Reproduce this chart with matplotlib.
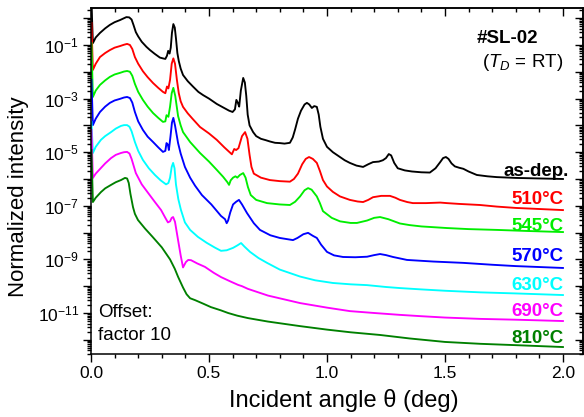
import matplotlib
matplotlib.use("Agg")
import numpy as np
import matplotlib.pyplot as plt
from matplotlib.ticker import FixedLocator, LogLocator, NullFormatter, FuncFormatter, MultipleLocator

plt.rcParams["font.family"] = ["Liberation Sans", "DejaVu Sans"]
plt.rcParams["mathtext.fontset"] = "custom"
plt.rcParams["mathtext.rm"] = "Liberation Sans"
plt.rcParams["mathtext.it"] = "Liberation Sans:italic"
plt.rcParams["mathtext.bf"] = "Liberation Sans:bold"

# X-ray reflectivity: incident angle (deg) and log10 of the plotted intensity.
# Successive annealing temperatures are already shifted down by a factor 10 each.
theta_asdep = [0.002, 0.008, 0.02, 0.038, 0.06, 0.08, 0.1, 0.123, 0.14, 0.15, 0.162, 0.172, 0.18, 0.19,
               0.2, 0.215, 0.235, 0.25, 0.27, 0.292, 0.305, 0.315, 0.322, 0.327, 0.333, 0.338, 0.343,
               0.349, 0.355, 0.36, 0.366, 0.372, 0.38, 0.39, 0.41, 0.432, 0.455, 0.475, 0.5, 0.533,
               0.56, 0.585, 0.6, 0.61, 0.616, 0.622, 0.628, 0.635, 0.645, 0.652, 0.658, 0.664, 0.672,
               0.687, 0.7, 0.72, 0.74, 0.758, 0.78, 0.80, 0.82, 0.843, 0.855, 0.865, 0.877, 0.89, 0.905,
               0.915, 0.925, 0.936, 0.946, 0.957, 0.965, 0.972, 0.983, 1.0, 1.025, 1.05, 1.075, 1.097,
               1.125, 1.153, 1.175, 1.195, 1.22, 1.237, 1.25, 1.262, 1.272, 1.285, 1.3, 1.33, 1.36, 1.4,
               1.436, 1.46, 1.479, 1.492, 1.504, 1.515, 1.528, 1.542, 1.56, 1.578, 1.6, 1.635, 1.68,
               1.72, 1.8, 1.9, 2.0]
logI_asdep = [0.6, -0.93, -0.72, -0.55, -0.38, -0.25, -0.15, -0.07, 0.0, 0.04, 0.03, -0.05, -0.25, -0.52,
              -0.68, -0.88, -1.07, -1.19, -1.33, -1.47, -1.5, -1.52, -1.4, -1.22, -1.32, -1.1, -0.55,
              -0.22, -0.35, -0.75, -1.3, -1.6, -1.88, -2.12, -2.35, -2.55, -2.75, -2.87, -3.0, -3.2,
              -3.33, -3.45, -3.5, -3.4, -3.05, -3.15, -3.3, -2.7, -2.23, -2.4, -2.9, -3.6, -4.0,
              -4.25, -4.4, -4.5, -4.55, -4.6, -4.65, -4.66, -4.68, -4.65, -4.45, -4.15, -3.75, -3.45, -3.22,
              -3.16, -3.22, -3.35, -3.28, -3.31, -3.6, -4.05, -4.5, -4.8, -5.0, -5.15, -5.3, -5.4,
              -5.5, -5.55, -5.45, -5.37, -5.35, -5.3, -5.22, -5.07, -5.12, -5.4, -5.6, -5.68, -5.72, -5.75,
              -5.76, -5.6, -5.38, -5.22, -5.18, -5.25, -5.42, -5.53, -5.58, -5.62, -5.72, -5.85, -5.9,
              -5.93, -5.96, -5.98, -6.0]

theta_510 = [0.002, 0.008, 0.02, 0.038, 0.06, 0.08, 0.1, 0.123, 0.14, 0.153, 0.165, 0.175, 0.186, 0.2,
             0.22, 0.24, 0.263, 0.285, 0.305, 0.315, 0.322, 0.328, 0.335, 0.342, 0.349, 0.356, 0.364,
             0.372, 0.38, 0.39, 0.41, 0.43, 0.462, 0.5, 0.533, 0.565, 0.597, 0.607, 0.615, 0.625, 0.64,
             0.653, 0.663, 0.672, 0.68, 0.69, 0.72, 0.758, 0.8, 0.843, 0.86, 0.877, 0.895, 0.91, 0.924,
             0.94, 0.957, 0.97, 0.983, 1.0, 1.025, 1.055, 1.097, 1.13, 1.153, 1.175, 1.195, 1.23, 1.267,
             1.29, 1.309, 1.34, 1.364, 1.42, 1.48, 1.508, 1.56, 1.648, 1.72, 1.8, 1.9, 2.0]
logI_510 = [-0.18, -1.93, -1.7, -1.45, -1.3, -1.19, -1.1, -1.04, -0.99, -0.96, -1.0, -1.15, -1.45, -1.7,
            -1.98, -2.2, -2.42, -2.6, -2.75, -2.8, -2.55, -2.62, -2.3, -1.7, -1.5, -1.7, -2.3,
            -2.8, -3.1, -3.31, -3.55, -3.75, -4.06, -4.3, -4.54, -4.82, -5.08, -4.88, -4.92, -4.85, -4.4,
            -4.25, -4.5, -5.1, -5.55, -5.8, -5.95, -6.04, -6.08, -6.1, -6.0, -5.8, -5.45, -5.25, -5.18,
            -5.25, -5.4, -5.7, -6.04, -6.28, -6.48, -6.65, -6.78, -6.84, -6.86, -6.78, -6.68, -6.63, -6.63,
            -6.7, -6.78, -6.86, -6.9, -6.9, -6.88, -6.9, -6.93, -6.97, -7.03, -7.08, -7.12, -7.16]

theta_545 = [0.002, 0.008, 0.02, 0.038, 0.06, 0.08, 0.1, 0.123, 0.14, 0.153, 0.165, 0.175, 0.186, 0.2,
             0.22, 0.24, 0.263, 0.285, 0.305, 0.315, 0.32, 0.328, 0.335, 0.342, 0.349, 0.357, 0.369,
             0.38, 0.39, 0.42, 0.462, 0.5, 0.533, 0.56, 0.578, 0.585, 0.592, 0.602, 0.612, 0.62, 0.631,
             0.645, 0.655, 0.665, 0.677, 0.7, 0.746, 0.8, 0.843, 0.865, 0.886, 0.905, 0.92, 0.935,
             0.957, 0.97, 0.983, 1.02, 1.055, 1.1, 1.127, 1.17, 1.2, 1.225, 1.26, 1.309, 1.35, 1.4,
             1.508, 1.6, 1.72, 1.85, 2.0]
logI_545 = [-0.93, -2.94, -2.7, -2.49, -2.32, -2.19, -2.1, -2.04, -1.99, -1.97, -2.0, -2.15, -2.45, -2.75,
            -3.05, -3.3, -3.54, -3.72, -3.87, -3.85, -3.62, -3.68, -3.3, -2.8, -2.6, -2.9, -3.65,
            -4.0, -4.25, -4.62, -5.03, -5.35, -5.66, -5.92, -6.12, -6.22, -6.05, -5.95, -5.9, -5.95, -5.85,
            -5.78, -5.95, -6.3, -6.6, -6.78, -6.9, -6.95, -6.97, -6.85, -6.65, -6.42, -6.34, -6.4,
            -6.65, -6.9, -7.2, -7.45, -7.58, -7.64, -7.64, -7.55, -7.45, -7.42, -7.5, -7.66, -7.72, -7.77,
            -7.83, -7.87, -7.9, -7.94, -7.98]

theta_570 = [0.002, 0.008, 0.02, 0.038, 0.06, 0.08, 0.1, 0.123, 0.14, 0.153, 0.165, 0.175, 0.186, 0.2,
             0.22, 0.24, 0.263, 0.285, 0.305, 0.315, 0.32, 0.326, 0.33, 0.337, 0.343, 0.349, 0.356,
             0.369, 0.38, 0.398, 0.42, 0.441, 0.47, 0.51, 0.551, 0.568, 0.575, 0.581, 0.59, 0.602, 0.615,
             0.627, 0.64, 0.661, 0.69, 0.716, 0.76, 0.8, 0.856, 0.875, 0.9, 0.92, 0.94, 0.957, 0.975,
             1.0, 1.03, 1.068, 1.12, 1.17, 1.2, 1.225, 1.25, 1.28, 1.339, 1.45, 1.578, 1.7, 1.8, 2.0]
logI_570 = [-2.3, -3.99, -3.75, -3.5, -3.3, -3.16, -3.07, -3.01, -2.96, -2.94, -2.98, -3.15, -3.5, -3.85,
            -4.17, -4.42, -4.62, -4.82, -4.99, -4.95, -4.66, -4.72, -4.92, -4.4, -3.9, -3.72, -4.0,
            -4.66, -5.05, -5.55, -5.95, -6.25, -6.6, -6.95, -7.38, -7.5, -7.65, -7.55, -7.25, -6.95, -6.85,
            -6.78, -6.95, -7.27, -7.65, -7.9, -8.1, -8.2, -8.28, -8.2, -8.06, -8.01, -8.12, -8.2, -8.45,
            -8.72, -8.85, -8.91, -8.92, -8.9, -8.84, -8.8, -8.84, -8.91, -9.02, -9.08, -9.13, -9.2, -9.25, -9.32]

theta_630 = [0.002, 0.008, 0.02, 0.042, 0.06, 0.085, 0.105, 0.127, 0.14, 0.153, 0.163, 0.172, 0.186, 0.2,
             0.22, 0.245, 0.271, 0.295, 0.318, 0.328, 0.335, 0.342, 0.348, 0.354, 0.36, 0.37, 0.381,
             0.398, 0.42, 0.453, 0.49, 0.525, 0.551, 0.575, 0.602, 0.62, 0.636, 0.65, 0.674, 0.71, 0.746,
             0.8, 0.886, 0.95, 1.025, 1.1, 1.17, 1.25, 1.309, 1.4, 1.5, 1.65, 1.8, 2.0]
logI_630 = [-3.87, -5.03, -4.8, -4.54, -4.4, -4.25, -4.12, -4.02, -3.99, -3.99, -4.05, -4.22, -4.62, -4.95,
            -5.29, -5.6, -5.85, -6.05, -6.2, -6.15, -5.95, -5.55, -5.4, -5.6, -6.2, -6.75, -7.15,
            -7.62, -7.9, -8.16, -8.38, -8.56, -8.68, -8.66, -8.57, -8.48, -8.39, -8.52, -8.72, -8.95, -9.13,
            -9.38, -9.64, -9.78, -9.88, -9.93, -9.96, -10.03, -10.07, -10.12, -10.17, -10.23, -10.27, -10.33]

theta_690 = [0.002, 0.008, 0.02, 0.042, 0.06, 0.085, 0.105, 0.127, 0.14, 0.153, 0.163, 0.172, 0.19, 0.215,
             0.242, 0.27, 0.297, 0.315, 0.326, 0.335, 0.342, 0.348, 0.356, 0.369, 0.38, 0.39, 0.396,
             0.402, 0.412, 0.424, 0.45, 0.483, 0.52, 0.551, 0.59, 0.623, 0.64, 0.665, 0.75, 0.886, 1.0,
             1.097, 1.2, 1.309, 1.4, 1.5, 1.65, 1.8, 2.0]
logI_690 = [-4.17, -5.96, -5.8, -5.59, -5.42, -5.22, -5.1, -5.03, -5.0, -4.99, -5.05, -5.25, -5.78, -6.2,
            -6.52, -6.85, -7.16, -7.45, -7.62, -7.58, -7.45, -7.42, -7.6, -8.28, -8.85, -9.3, -9.2,
            -9.1, -9.02, -9.03, -9.15, -9.28, -9.5, -9.66, -9.82, -9.95, -10.0, -10.1, -10.35, -10.63, -10.8,
            -10.93, -11.0, -11.07, -11.12, -11.17, -11.22, -11.25, -11.3]

theta_810 = [0.002, 0.008, 0.02, 0.042, 0.06, 0.085, 0.105, 0.127, 0.144, 0.153, 0.16, 0.167, 0.178, 0.186,
             0.199, 0.229, 0.26, 0.3, 0.335, 0.355, 0.369, 0.39, 0.405, 0.42, 0.441, 0.475, 0.508, 0.55,
             0.581, 0.62, 0.665, 0.75, 0.886, 1.0, 1.1, 1.225, 1.35, 1.5, 1.65, 1.8, 2.0]
logI_810 = [-4.92, -6.86, -6.7, -6.49, -6.35, -6.22, -6.12, -6.04, -5.96, -5.98, -6.15, -6.55, -7.05, -7.3,
            -7.53, -7.85, -8.15, -8.55, -9.0, -9.35, -9.65, -10.05, -10.3, -10.45, -10.52, -10.65, -10.78, -10.9,
            -11.0, -11.1, -11.19, -11.32, -11.49, -11.62, -11.72, -11.82, -11.95, -12.08, -12.15, -12.2, -12.27]

sample_labels = ["as-dep.", "510°C", "545°C", "570°C", "630°C", "690°C", "810°C"]
colors = ["#000000", "#FF0000", "#00EE00", "#0000FF", "#00FFFF", "#FF00FF", "#008000"]
thetas = [theta_asdep, theta_510, theta_545, theta_570, theta_630, theta_690, theta_810]
logIs = [logI_asdep, logI_510, logI_545, logI_570, logI_630, logI_690, logI_810]

W, H = 584, 417
fig = plt.figure(figsize=(W / 100, H / 100), dpi=100)
ax = fig.add_axes([91 / W, 63 / H, 492 / W, 346 / H])

for th, lg, c in zip(thetas, logIs, colors):
    ax.plot(th, 10.0 ** np.asarray(lg), color=c, lw=1.35, solid_joinstyle="round")

ax.set_yscale("log")
ax.set_xlim(0, 2.085)
ax.set_ylim(10 ** -12.53, 10 ** 0.38)

# left / bottom ticks point outward
ax.xaxis.set_major_locator(MultipleLocator(0.5))
ax.xaxis.set_minor_locator(MultipleLocator(0.1))
ax.xaxis.set_major_formatter(FuncFormatter(lambda v, p: f"{v:.1f}"))
decades = [10.0 ** e for e in range(-13, 1)]
ax.yaxis.set_major_locator(FixedLocator(decades))
ax.yaxis.set_minor_locator(LogLocator(base=10, subs=np.arange(2, 10), numticks=30))
ax.yaxis.set_minor_formatter(NullFormatter())


def decade_label(v, pos):
    e = int(round(np.log10(v)))
    if e % 2 == 0:
        return ""
    return r"$10^{%d}$" % e


ax.yaxis.set_major_formatter(FuncFormatter(decade_label))
ax.tick_params(axis="both", which="major", direction="out", length=5.5, width=1.0, labelsize=12.5, pad=3)
ax.tick_params(axis="both", which="minor", direction="out", length=3, width=1.0)
for s in ax.spines.values():
    s.set_linewidth(1.1)

# top / right ticks point inward
top = ax.secondary_xaxis("top")
top.xaxis.set_major_locator(MultipleLocator(0.5))
top.xaxis.set_minor_locator(MultipleLocator(0.1))
top.tick_params(which="major", direction="in", length=5.5, width=1.0, labeltop=False)
top.tick_params(which="minor", direction="in", length=3, width=1.0)
top.spines["top"].set_linewidth(1.1)

right = ax.secondary_yaxis("right")
right.yaxis.set_major_locator(FixedLocator(decades))
right.yaxis.set_minor_locator(LogLocator(base=10, subs=np.arange(2, 10), numticks=30))
right.tick_params(which="major", direction="in", length=5.5, width=1.0, labelright=False)
right.tick_params(which="minor", direction="in", length=3, width=1.0)
right.yaxis.set_minor_formatter(NullFormatter())
right.spines["right"].set_linewidth(1.1)

fig.text(344 / W, 1 - 401 / H, "Incident angle θ (deg)", fontsize=17, ha="center", va="center")
fig.text(19 / W, 1 - 197 / H, "Normalized intensity", fontsize=16, ha="center", va="center",
         rotation=90)


def px(xp, yp):
    return (xp - 91) / 492, (354 - yp) / 346


label_pos = [(569, 176), (564, 204), (564, 231), (564, 261), (564, 290), (564, 316), (564, 343)]
for lab, c, (xp, yp) in zip(sample_labels, colors, label_pos):
    ax.text(*px(xp, yp), lab, transform=ax.transAxes, ha="right", va="baseline",
            color=c, fontsize=13.5, fontweight="bold")

ax.text(*px(538, 43), "#SL-02", transform=ax.transAxes, ha="right", va="baseline",
        fontsize=13.5, fontweight="bold")
ax.text(*px(563, 67), r"($T_D$ = RT)", transform=ax.transAxes, ha="right", va="baseline",
        fontsize=13.5)
ax.text(*px(98, 317), "Offset:", transform=ax.transAxes, ha="left", va="baseline", fontsize=13.5)
ax.text(*px(98, 340), "factor 10", transform=ax.transAxes, ha="left", va="baseline", fontsize=13.5)

fig.savefig("out.png", dpi=100)
